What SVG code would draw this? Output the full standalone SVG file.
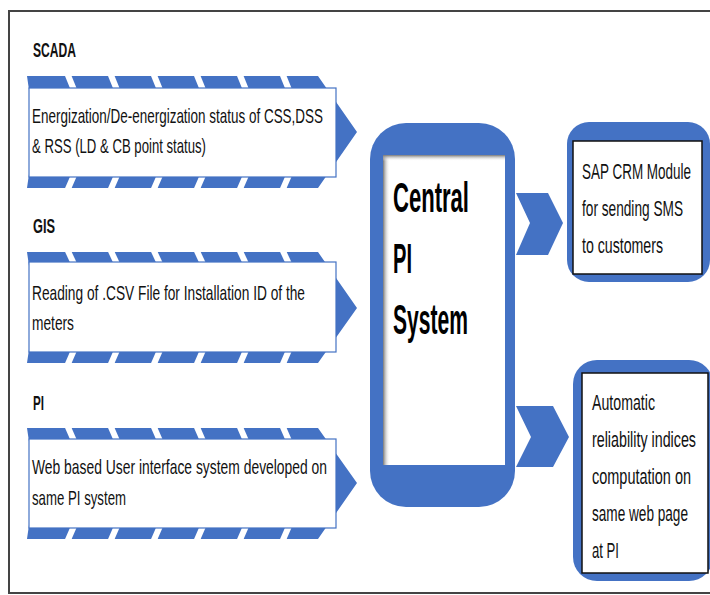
<svg xmlns="http://www.w3.org/2000/svg" width="710" height="595" viewBox="0 0 710 595">
<defs>
<style>
.blue{fill:#4472C4}
.gap{stroke:#fff;stroke-width:6}
.rowbox{fill:#fff;stroke:#4472C4;stroke-width:1.2}
.t{font-family:"Liberation Sans",Arial,sans-serif;font-size:21px;fill:#111}
.h{font-family:"Liberation Sans",Arial,sans-serif;font-size:20px;font-weight:bold;fill:#111}
.c{font-family:"Liberation Sans",Arial,sans-serif;font-size:42px;font-weight:bold;fill:#000}
.r{font-family:"Liberation Sans",Arial,sans-serif;font-size:22px;fill:#111}
</style>
<linearGradient id="shL" x1="0" y1="0" x2="1" y2="0">
<stop offset="0" stop-color="#777"/><stop offset="1" stop-color="#fff" stop-opacity="0"/>
</linearGradient>
<linearGradient id="shT" x1="0" y1="0" x2="0" y2="1">
<stop offset="0" stop-color="#777"/><stop offset="1" stop-color="#fff" stop-opacity="0"/>
</linearGradient>
</defs>
<rect x="0" y="0" width="710" height="595" fill="#fff"/>
<rect x="9" y="11" width="720" height="582" fill="none" stroke="#444" stroke-width="2"/>

<g id="scada">
<text class="h" x="33" y="57" textLength="43" lengthAdjust="spacingAndGlyphs">SCADA</text>
<polygon class="blue" points="27,76 318,76 357,132 318,188 27,188 35,132"/>
<g class="gap">
<line x1="67.5" y1="74" x2="74" y2="90"/><line x1="110.5" y1="74" x2="117" y2="90"/><line x1="153.5" y1="74" x2="160" y2="90"/><line x1="196.5" y1="74" x2="203" y2="90"/><line x1="239.5" y1="74" x2="246" y2="90"/><line x1="282.5" y1="74" x2="289" y2="90"/>
<line x1="74" y1="175" x2="67.5" y2="190"/><line x1="117" y1="175" x2="110.5" y2="190"/><line x1="160" y1="175" x2="153.5" y2="190"/><line x1="203" y1="175" x2="196.5" y2="190"/><line x1="246" y1="175" x2="239.5" y2="190"/><line x1="289" y1="175" x2="282.5" y2="190"/>
</g>
<rect class="rowbox" x="29" y="88" width="307" height="89"/>
<text class="t" x="32" y="123" textLength="291" lengthAdjust="spacingAndGlyphs">Energization/De-energization status of CSS,DSS</text>
<text class="t" x="32" y="153" textLength="174" lengthAdjust="spacingAndGlyphs">&amp; RSS (LD &amp; CB point status)</text>
</g>

<g id="gis">
<text class="h" x="33" y="233" textLength="22" lengthAdjust="spacingAndGlyphs">GIS</text>
<polygon class="blue" points="27,252 318,252 357,308 318,363 27,363 35,308"/>
<g class="gap">
<line x1="67.5" y1="250" x2="74" y2="264"/><line x1="110.5" y1="250" x2="117" y2="264"/><line x1="153.5" y1="250" x2="160" y2="264"/><line x1="196.5" y1="250" x2="203" y2="264"/><line x1="239.5" y1="250" x2="246" y2="264"/><line x1="282.5" y1="250" x2="289" y2="264"/>
<line x1="74" y1="350" x2="67.5" y2="365"/><line x1="117" y1="350" x2="110.5" y2="365"/><line x1="160" y1="350" x2="153.5" y2="365"/><line x1="203" y1="350" x2="196.5" y2="365"/><line x1="246" y1="350" x2="239.5" y2="365"/><line x1="289" y1="350" x2="282.5" y2="365"/>
</g>
<rect class="rowbox" x="29" y="262" width="307" height="90"/>
<text class="t" x="32" y="300" textLength="273" lengthAdjust="spacingAndGlyphs">Reading of .CSV File for Installation ID of the</text>
<text class="t" x="32" y="330" textLength="42" lengthAdjust="spacingAndGlyphs">meters</text>
</g>

<g id="pi">
<text class="h" x="33" y="410" textLength="11" lengthAdjust="spacingAndGlyphs">PI</text>
<polygon class="blue" points="27,428 318,428 357,483 318,539 27,539 35,483"/>
<g class="gap">
<line x1="67.5" y1="426" x2="74" y2="441"/><line x1="110.5" y1="426" x2="117" y2="441"/><line x1="153.5" y1="426" x2="160" y2="441"/><line x1="196.5" y1="426" x2="203" y2="441"/><line x1="239.5" y1="426" x2="246" y2="441"/><line x1="282.5" y1="426" x2="289" y2="441"/>
<line x1="74" y1="526" x2="67.5" y2="541"/><line x1="117" y1="526" x2="110.5" y2="541"/><line x1="160" y1="526" x2="153.5" y2="541"/><line x1="203" y1="526" x2="196.5" y2="541"/><line x1="246" y1="526" x2="239.5" y2="541"/><line x1="289" y1="526" x2="282.5" y2="541"/>
</g>
<rect class="rowbox" x="29" y="439" width="307" height="89"/>
<text class="t" x="32" y="474" textLength="295" lengthAdjust="spacingAndGlyphs">Web based User interface system developed on</text>
<text class="t" x="32" y="505" textLength="94" lengthAdjust="spacingAndGlyphs">same PI system</text>
</g>

<g id="central">
<rect class="blue" x="370" y="123" width="145" height="384" rx="36" ry="36"/>
<rect x="383" y="155" width="122" height="310" fill="#fff"/>
<rect x="383" y="155" width="7" height="310" fill="url(#shL)"/>
<rect x="383" y="155" width="122" height="6" fill="url(#shT)"/>
<text class="c" x="393" y="212" textLength="76" lengthAdjust="spacingAndGlyphs">Central</text>
<text class="c" x="393" y="273" textLength="19" lengthAdjust="spacingAndGlyphs">PI</text>
<text class="c" x="393" y="334" textLength="75" lengthAdjust="spacingAndGlyphs">System</text>
</g>

<g id="connectors">
<polygon class="blue" points="516,193 548,193 563,223 548,255 516,255 530,223"/>
<polygon class="blue" points="516,406 553,406 569,437 553,467 516,467 531,437"/>
</g>

<g id="sap">
<rect class="blue" x="567" y="122" width="143" height="160" rx="22" ry="22"/>
<rect x="573" y="141" width="129" height="133" fill="#fff" stroke="#111" stroke-width="1.5"/>
<text class="r" x="582" y="179" textLength="109" lengthAdjust="spacingAndGlyphs">SAP CRM Module</text>
<text class="r" x="582" y="216" textLength="101" lengthAdjust="spacingAndGlyphs">for sending SMS</text>
<text class="r" x="582" y="253" textLength="81" lengthAdjust="spacingAndGlyphs">to customers</text>
</g>

<g id="reliability">
<rect class="blue" x="573" y="360" width="140" height="221" rx="24" ry="24"/>
<rect x="582" y="373" width="126" height="200" fill="#fff" stroke="#111" stroke-width="1.5"/>
<text class="r" x="592" y="410" textLength="63" lengthAdjust="spacingAndGlyphs">Automatic</text>
<text class="r" x="592" y="447" textLength="104" lengthAdjust="spacingAndGlyphs">reliability indices</text>
<text class="r" x="592" y="484" textLength="99" lengthAdjust="spacingAndGlyphs">computation on</text>
<text class="r" x="592" y="521" textLength="96" lengthAdjust="spacingAndGlyphs">same web page</text>
<text class="r" x="592" y="558" textLength="27" lengthAdjust="spacingAndGlyphs">at PI</text>
</g>
</svg>
